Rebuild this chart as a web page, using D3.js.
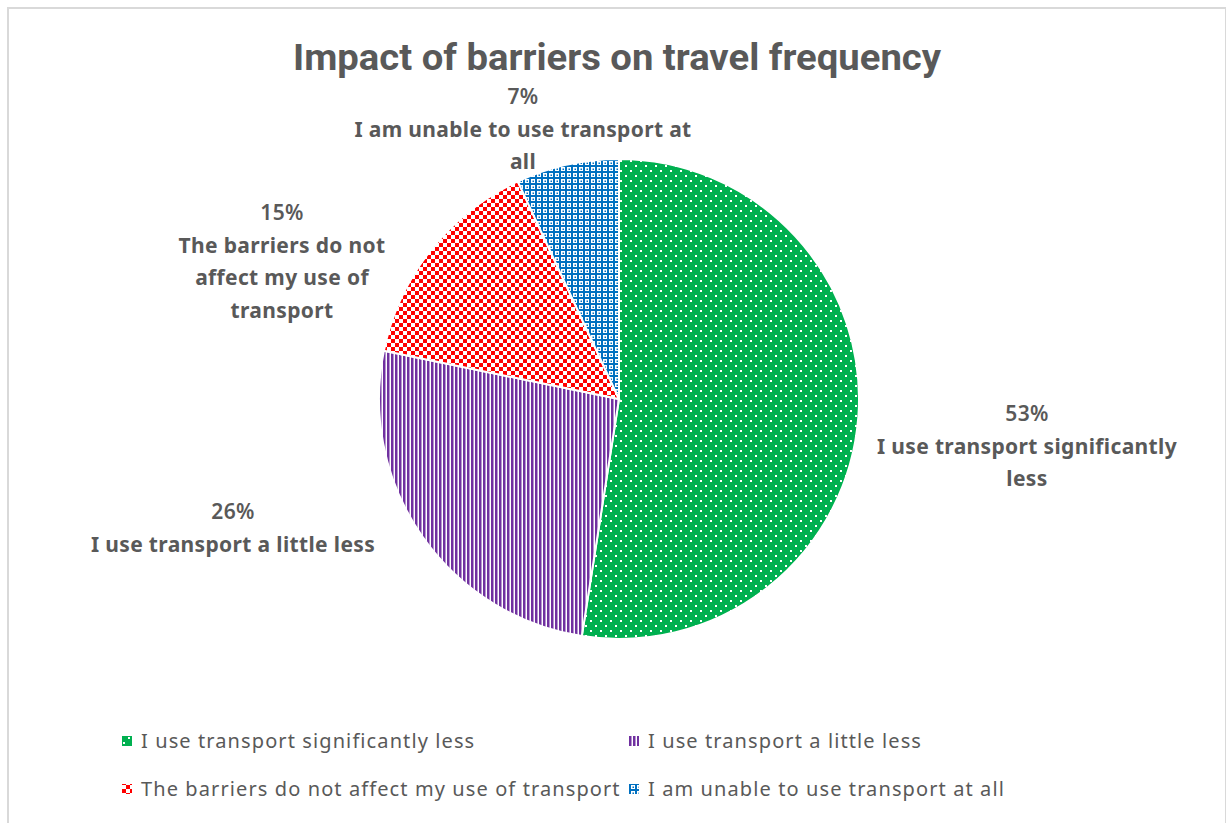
<!DOCTYPE html>
<html>
<head>
<meta charset="utf-8">
<script src="https://cdn.jsdelivr.net/npm/d3@7"></script>
<style>
  body { margin: 0; background: #fff; }
  svg { display: block; }
</style>
</head>
<body>
<svg id="pieSvg"></svg>
<script>
// chart data
var categories = [
    "I use transport significantly less",
    "I use transport a little less",
    "The barriers do not affect my use of transport",
    "I am unable to use transport at all"
];
var values = [53, 26, 15, 7];
var colors = ["#00b050", "#7030a0", "#ff0000", "#0070c0"];
// data label lines (wrapped like the original)
var labelLines = [
    ["I use transport significantly", "less"],
    ["I use transport a little less"],
    ["The barriers do not", "affect my use of", "transport"],
    ["I am unable to use transport at", "all"]
];
var title = "Impact of barriers on travel frequency";

function createPieChart() {
    var width = 1226, height = 823;
    var cx = 619, cy = 399, radius = 240;
    var textColor = "#595959";

    var svg = d3.select("#pieSvg")
        .attr("width", width)
        .attr("height", height);

    // fill patterns
    var defs = svg.append("defs");

    // green: white dots
    var p0 = defs.append("pattern").attr("id", "pat0")
        .attr("patternUnits", "userSpaceOnUse").attr("width", 10).attr("height", 10);
    p0.append("rect").attr("width", 10).attr("height", 10).attr("fill", colors[0]);
    p0.append("rect").attr("x", 1).attr("y", 1).attr("width", 2).attr("height", 2).attr("fill", "#fff");
    p0.append("rect").attr("x", 6).attr("y", 6).attr("width", 2).attr("height", 2).attr("fill", "#fff");

    // purple: vertical stripes
    var p1 = defs.append("pattern").attr("id", "pat1")
        .attr("patternUnits", "userSpaceOnUse").attr("width", 4).attr("height", 4);
    p1.append("rect").attr("width", 4).attr("height", 4).attr("fill", "#fff");
    p1.append("rect").attr("width", 2.5).attr("height", 4).attr("fill", colors[1]);

    // red: small checkerboard
    var p2 = defs.append("pattern").attr("id", "pat2")
        .attr("patternUnits", "userSpaceOnUse").attr("width", 8).attr("height", 8);
    p2.append("rect").attr("width", 8).attr("height", 8).attr("fill", "#fff");
    p2.append("rect").attr("width", 4).attr("height", 4).attr("fill", colors[2]);
    p2.append("rect").attr("x", 4).attr("y", 4).attr("width", 4).attr("height", 4).attr("fill", colors[2]);

    // blue: lattice
    var p3 = defs.append("pattern").attr("id", "pat3")
        .attr("patternUnits", "userSpaceOnUse").attr("width", 6).attr("height", 6);
    p3.append("rect").attr("width", 6).attr("height", 6).attr("fill", "#fff");
    p3.append("rect").attr("width", 6).attr("height", 2).attr("fill", colors[3]);
    p3.append("rect").attr("width", 2).attr("height", 6).attr("fill", colors[3]);
    p3.append("rect").attr("x", 3.5).attr("y", 3.5).attr("width", 1.5).attr("height", 1.5).attr("fill", colors[3]);

    // outer frame
    svg.append("rect")
        .attr("x", 8).attr("y", 8)
        .attr("width", width - 8).attr("height", height)
        .attr("fill", "none")
        .attr("stroke", "#d9d9d9")
        .attr("stroke-width", 2);

    // title
    svg.append("text")
        .attr("x", 617).attr("y", 70)
        .attr("text-anchor", "middle")
        .attr("font-family", "Roboto, 'Liberation Sans', sans-serif")
        .attr("font-weight", "bold")
        .attr("font-size", 36)
        .attr("fill", textColor)
        .attr("textLength", 648)
        .attr("lengthAdjust", "spacingAndGlyphs")
        .text(title);

    var pie = d3.pie().sort(null).value(function(d) { return d; });
    var arc = d3.arc().innerRadius(0).outerRadius(radius);
    var arcs = pie(values);

    var g = svg.append("g")
        .attr("transform", "translate(" + cx + "," + cy + ")");

    g.selectAll(".slice")
        .data(arcs)
        .enter().append("path")
        .attr("class", "slice")
        .attr("d", arc)
        .attr("fill", function(d, i) { return "url(#pat" + i + ")"; })
        .attr("stroke", "#fff")
        .attr("stroke-width", 2);

    // data labels: positioned outside the pie, Excel style
    var labelPos = [[1027, 413], [233, 511], [282, 212], [523, 96]];
    var lineH = 32.5;
    arcs.forEach(function(d, i) {
        var t = svg.append("text")
            .attr("text-anchor", "middle")
            .attr("font-family", "'Noto Sans', 'Open Sans', sans-serif")
            .attr("font-size", 21)
            .attr("letter-spacing", 0.35)
            .attr("fill", textColor);
        t.append("tspan")
            .attr("x", labelPos[i][0]).attr("y", labelPos[i][1] + 8)
            .attr("font-weight", 600)
            .text(values[i] + "%");
        labelLines[i].forEach(function(line, j) {
            t.append("tspan")
                .attr("x", labelPos[i][0])
                .attr("y", labelPos[i][1] + 8 + lineH * (j + 1))
                .attr("font-weight", "bold")
                .text(line);
        });
    });

    // legend, two columns
    var legendX = [122, 629], legendY = [741, 789];
    var legend = svg.selectAll(".legend")
        .data(categories)
        .enter().append("g")
        .attr("class", "legend")
        .attr("transform", function(d, i) {
            return "translate(" + legendX[i % 2] + "," + legendY[Math.floor(i / 2)] + ")";
        });
    legend.append("rect")
        .attr("x", 0).attr("y", -5)
        .attr("width", 10).attr("height", 10)
        .attr("fill", function(d, i) { return "url(#pat" + i + ")"; });
    legend.append("text")
        .attr("x", 19).attr("y", 7)
        .attr("font-family", "'Noto Sans', 'Open Sans', sans-serif")
        .attr("font-size", 20)
        .attr("letter-spacing", 1.1)
        .attr("fill", textColor)
        .text(function(d) { return d; });
}

createPieChart();
</script>
</body>
</html>
